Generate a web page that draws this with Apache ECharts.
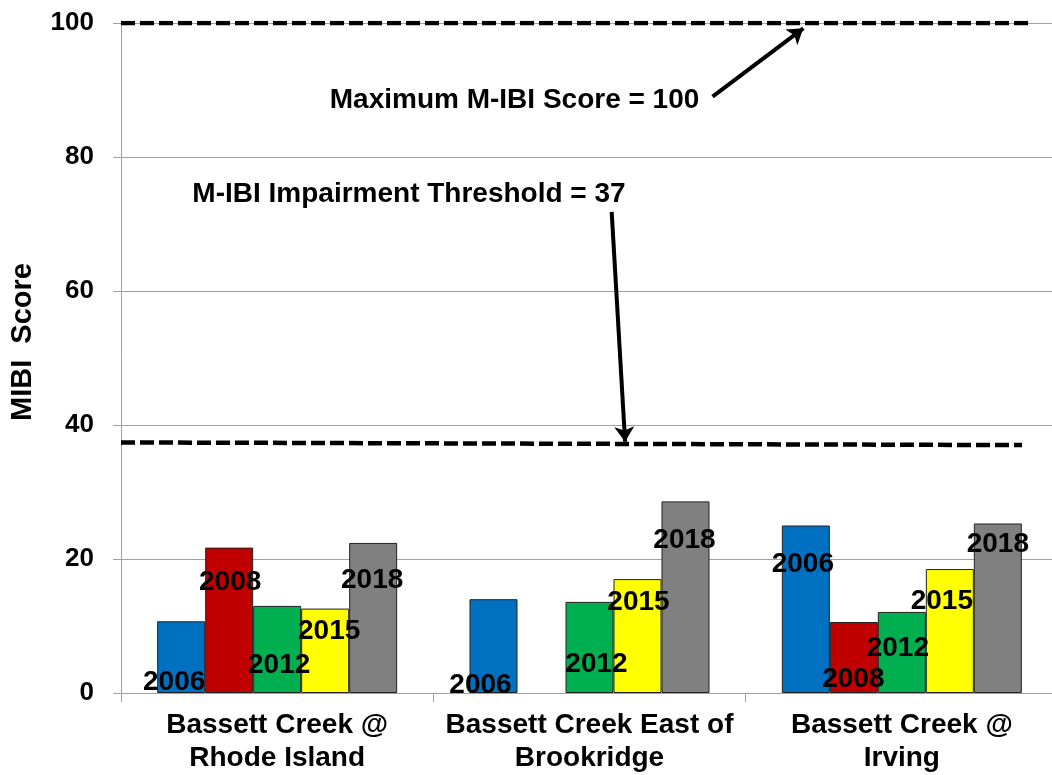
<!DOCTYPE html>
<html>
<head>
<meta charset="utf-8">
<script src="https://cdn.jsdelivr.net/npm/echarts@6/dist/echarts.min.js"></script>
<style>
  html, body { margin: 0; padding: 0; background: #fff; }
  #chart { width: 1052px; height: 775px; }
</style>
</head>
<body>
<div id="chart"></div>
<script>
// sites along the x axis
const sites = ["Bassett Creek @\nRhode Island", "Bassett Creek East of\nBrookridge", "Bassett Creek @\nIrving"];
const years = ["2006", "2008", "2012", "2015", "2018"];

// MIBI score per site, one list per year (null = no sample)
const score2006 = [10.7, 14.0, 25.0];
const score2008 = [21.7, null, 10.6];
const score2012 = [13.0, 13.6, 12.1];
const score2015 = [12.6, 17.0, 18.5];
const score2018 = [22.4, 28.6, 25.3];

const yTicks = { min: 0, max: 100, step: 20 };

// reference lines, x in category units (0..3), y in score
const maxLine = [[0, 100], [2.904, 100]];
const thresholdLine = [[0, 37.4], [2.885, 37.0]];

// annotation texts and arrows
const maxNote = { text: "Maximum M-IBI Score = 100", at: [1.26, 88.5] };
const thresholdNote = { text: "M-IBI Impairment Threshold = 37", at: [0.922, 74.5] };
const maxArrow = [[1.894, 89.0], [2.1845, 99.2]];
const thresholdArrow = [[1.571, 71.8], [1.614, 37.5]];

const colors = ["#0070C0", "#C00000", "#00B050", "#FFFF00", "#808080"];
const FONT = "'Liberation Sans', Arial, sans-serif";

// where each year label sits on its bar: [dx, dy below bar top]
const labelNudge = [
  [[-7, 61], [-13, 86], [-3, 39]],
  [[1, 35], [0, 0], [-0.5, 57]],
  [[2, 59], [7, 62], [-4, 36]],
  [[4, 23], [1, 23], [-8, 32]],
  [[-1, 37], [-1, 39], [0, 21]],
];

const scores = [score2006, score2008, score2012, score2015, score2018];

const barSeries = years.map((year, i) => ({
  name: year,
  type: "bar",
  barWidth: 48,
  barGap: "0%",
  itemStyle: { color: colors[i], borderColor: "#222", borderWidth: 1 },
  label: {
    show: true,
    formatter: "{a}",
    color: "#000",
    fontFamily: FONT,
    fontWeight: "bold",
    fontSize: 28,
    align: "center",
    verticalAlign: "middle",
  },
  data: scores[i].map((v, j) => ({
    value: v,
    label: { position: ["50%", labelNudge[i][j][1]], offset: [labelNudge[i][j][0], 0] },
  })),
}));

const chart = echarts.init(document.getElementById("chart"));
chart.setOption({
  animation: false,
  grid: { left: 121, right: -6, top: 23, bottom: 82, containLabel: false, outerBoundsMode: "none" },
  xAxis: [
    {
      type: "category",
      data: sites,
      axisLine: { lineStyle: { color: "#A0A0A0", width: 1 } },
      axisTick: { show: true, length: 9, lineStyle: { color: "#A0A0A0" } },
      axisLabel: {
        interval: 0,
        margin: 16,
        color: "#000",
        fontFamily: FONT,
        fontWeight: "bold",
        fontSize: 28,
        lineHeight: 33,
      },
    },
    { type: "value", min: 0, max: 3, show: false },
  ],
  yAxis: {
    type: "value",
    min: yTicks.min,
    max: yTicks.max,
    interval: yTicks.step,
    name: "MIBI  Score",
    nameLocation: "middle",
    nameRotate: 90,
    nameGap: 84,
    nameTextStyle: {
      color: "#000", fontFamily: FONT, fontWeight: "bold", fontSize: 29,
      padding: [0, 0, 0, 32],
    },
    axisLine: { show: true, lineStyle: { color: "#A0A0A0", width: 1 } },
    axisTick: { show: true, length: 8, lineStyle: { color: "#A0A0A0" } },
    splitLine: { lineStyle: { color: "#A0A0A0", width: 1 } },
    axisLabel: { margin: 27, color: "#000", fontFamily: FONT, fontWeight: "bold", fontSize: 26 },
  },
  series: [
    ...barSeries,
    {
      name: "max",
      type: "line",
      xAxisIndex: 1,
      data: maxLine,
      symbol: "none",
      silent: true,
      z: 5,
      lineStyle: { color: "#000", width: 4.5, type: [14, 5] },
      markPoint: {
        symbol: "circle",
        symbolSize: 1,
        itemStyle: { color: "transparent" },
        label: {
          show: true,
          position: "inside",
          formatter: "{b}",
          color: "#000",
          fontFamily: FONT,
          fontWeight: "bold",
          fontSize: 28,
        },
        data: [
          { name: maxNote.text, coord: maxNote.at },
          { name: thresholdNote.text, coord: thresholdNote.at },
        ],
      },
    },
    {
      name: "threshold",
      type: "line",
      xAxisIndex: 1,
      data: thresholdLine,
      symbol: "none",
      silent: true,
      z: 5,
      lineStyle: { color: "#000", width: 4.5, type: [14, 5] },
      markLine: {
        silent: true,
        symbol: ["none", "arrow"],
        symbolSize: 15,
        label: { show: false },
        lineStyle: { color: "#000", width: 4, type: "solid" },
        data: [
          [{ coord: maxArrow[0] }, { coord: maxArrow[1] }],
          [{ coord: thresholdArrow[0] }, { coord: thresholdArrow[1] }],
        ],
      },
    },
  ],
});
</script>
</body>
</html>
